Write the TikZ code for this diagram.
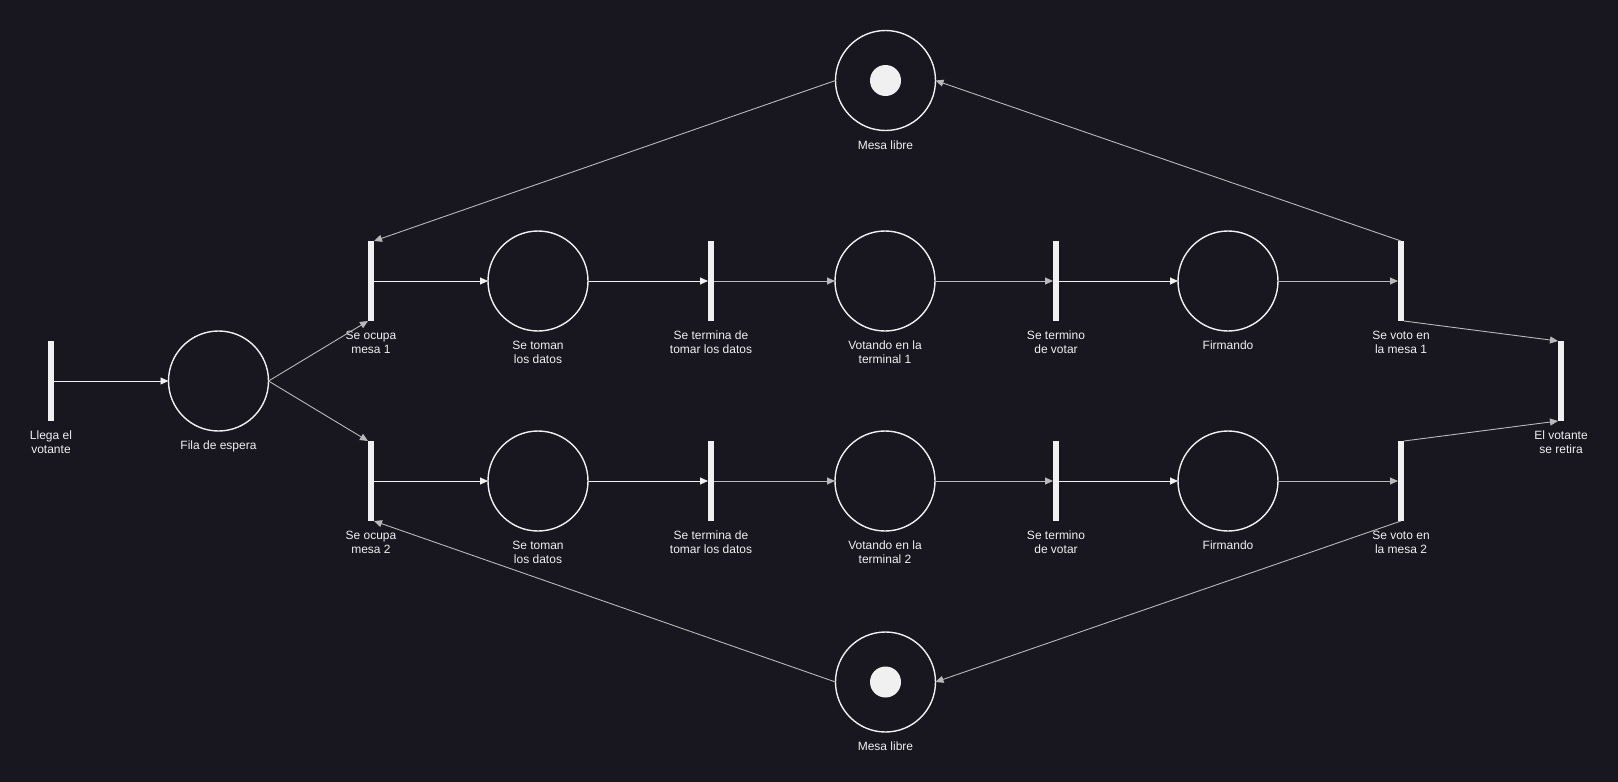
\documentclass[tikz,border=0pt]{standalone}
\usepackage{fontspec}
\setmainfont{Liberation Sans}
\usetikzlibrary{arrows.meta}
\definecolor{bg}{RGB}{24,22,30}
\definecolor{fg}{RGB}{240,240,240}
\definecolor{edgegray}{RGB}{185,185,185}
\tikzset{
  place/.style={circle,draw=fg,line width=1.4pt,minimum size=100pt,inner sep=0pt,outer sep=0pt},
  trans/.style={rectangle,fill=fg,draw=none,minimum width=6pt,minimum height=80pt,inner sep=0pt,outer sep=0pt},
  token/.style={circle,fill=fg,draw=none,minimum size=31pt,inner sep=0pt},
  lab/.style={text=fg,font=\fontsize{12}{13.6}\selectfont,align=center,inner sep=0pt},
  arc/.style={draw=fg,line width=0.9pt,-{Triangle[length=8pt,width=7pt]}},
  garc/.style={draw=edgegray,line width=0.9pt,-{Triangle[length=8pt,width=7pt]}},
}
\begin{document}
\begin{tikzpicture}[x=1pt,y=-1pt]
\fill[bg] (0,0) rectangle (1618,782);
\useasboundingbox (0,0) rectangle (1618,782);
% transitions & places
\node[trans,label={[lab,label distance=10pt]below:Llega el\\votante}] (t0) at (51,381) {};
\node[place,label={[lab,label distance=10pt]below:Fila de espera}] (p0) at (218.5,381) {};

\node[trans,label={[lab,label distance=10pt]below:Se ocupa\\mesa 1}] (t1) at (371,281) {};
\node[place,label={[lab,label distance=10pt]below:Se toman\\los datos}] (p1) at (538,281) {};
\node[trans,label={[lab,label distance=10pt]below:Se termina de\\tomar los datos}] (t2) at (711,281) {};
\node[place,label={[lab,label distance=10pt]below:Votando en la\\terminal 1}] (p2) at (885,281) {};
\node[trans,label={[lab,label distance=10pt]below:Se termino\\de votar}] (t3) at (1056,281) {};
\node[place,label={[lab,label distance=10pt]below:Firmando}] (p3) at (1228,281) {};
\node[trans,label={[lab,label distance=10pt]below:Se voto en\\la mesa 1}] (t4) at (1401,281) {};

\node[trans,label={[lab,label distance=10pt]below:Se ocupa\\mesa 2}] (u1) at (371,481) {};
\node[place,label={[lab,label distance=10pt]below:Se toman\\los datos}] (q1) at (538,481) {};
\node[trans,label={[lab,label distance=10pt]below:Se termina de\\tomar los datos}] (u2) at (711,481) {};
\node[place,label={[lab,label distance=10pt]below:Votando en la\\terminal 2}] (q2) at (885,481) {};
\node[trans,label={[lab,label distance=10pt]below:Se termino\\de votar}] (u3) at (1056,481) {};
\node[place,label={[lab,label distance=10pt]below:Firmando}] (q3) at (1228,481) {};
\node[trans,label={[lab,label distance=10pt]below:Se voto en\\la mesa 2}] (u4) at (1401,481) {};

\node[trans,label={[lab,label distance=10pt]below:El votante\\se retira}] (t5) at (1561,381) {};

\node[place,label={[lab,label distance=10pt]below:Mesa libre}] (m1) at (885.5,80.5) {};
\node[token] (k1) at (m1.center) {};
\node[place,label={[lab,label distance=10pt]below:Mesa libre}] (m2) at (885.5,682) {};
\node[token] (k2) at (m2.center) {};

% arcs
\draw[arc] (t0.east) -- (p0.west);
\draw[garc] (p0.east) -- (t1.south west);
\draw[garc] (p0.east) -- (u1.north west);

\draw[arc] (t1.east) -- (p1.west);
\draw[arc] (p1.east) -- (t2.west);
\draw[garc] (t2.east) -- (p2.west);
\draw[garc] (p2.east) -- (t3.west);
\draw[arc] (t3.east) -- (p3.west);
\draw[garc] (p3.east) -- (t4.west);

\draw[arc] (u1.east) -- (q1.west);
\draw[arc] (q1.east) -- (u2.west);
\draw[garc] (u2.east) -- (q2.west);
\draw[garc] (q2.east) -- (u3.west);
\draw[arc] (u3.east) -- (q3.west);
\draw[garc] (q3.east) -- (u4.west);

\draw[garc] (m1.west) -- (t1.north east);
\draw[garc] (t4.north) -- (m1.east);
\draw[garc] (u4.south) -- (m2.east);
\draw[garc] (m2.west) -- (u1.south east);

\draw[garc] (t4.south east) -- (t5.north west);
\draw[garc] (u4.north east) -- (t5.south west);
\end{tikzpicture}
\end{document}
